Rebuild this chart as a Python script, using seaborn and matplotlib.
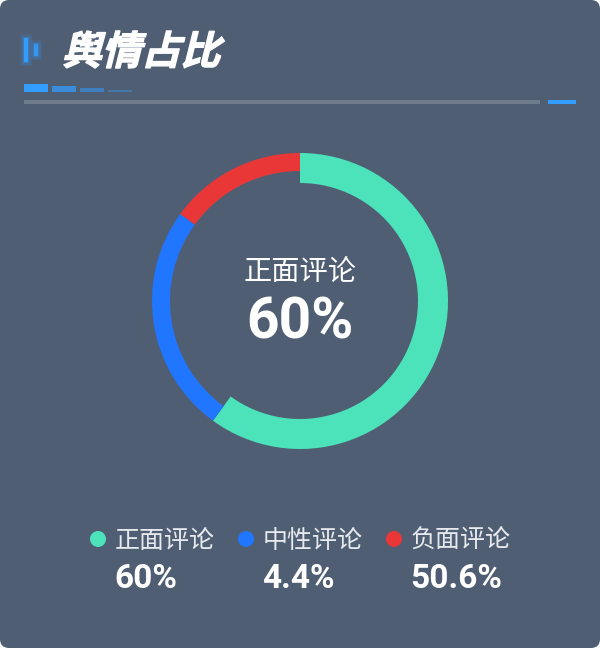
# Importar Librerias
import seaborn as sns
import matplotlib.pyplot as plt
import matplotlib.patheffects as pe
from matplotlib.patches import Circle, FancyBboxPatch, Rectangle
from matplotlib.transforms import Affine2D

titulo = "舆情占比"
categorias = ["正面评论", "中性评论", "负面评论"]
valores_anillo = [60, 25, 15]
etiquetas_valor = ["60%", "4.4%", "50.6%"]
colores = ["#4CE3BB", "#2176FF", "#E93737"]

FONDO = "#4F5E73"
AZUL = "#339CFF"
FUENTE_CJK = ["Noto Sans CJK SC", "DejaVu Sans"]
FUENTE_NUM = ["Roboto", "DejaVu Sans"]


class Sesgo(pe.AbstractPathEffect):
    """Inclina el texto para imitar la fuente cursiva del titulo"""

    def __init__(self, y_base, grados):
        super().__init__()
        self.y_base = y_base
        self.grados = grados

    def draw_path(self, renderer, gc, tpath, affine, rgbFace=None):
        sesgo = (Affine2D().translate(0, -self.y_base)
                 .skew_deg(self.grados, 0).translate(0, self.y_base))
        gc2 = renderer.new_gc()
        gc2.copy_properties(gc)
        gc2.set_linewidth(0.9)
        gc2.set_foreground("white")
        renderer.draw_path(gc2, tpath, affine + sesgo, rgbFace)
        gc2.restore()


sns.set_style("white")
plt.rcParams['font.family'] = FUENTE_CJK

fig = plt.figure(figsize=(6, 6.48), dpi=100, facecolor="white")
ax = fig.add_axes([0, 0, 1, 1])

# Fondo redondeado
ax.add_patch(FancyBboxPatch((0, 0), 600, 648, boxstyle="round,pad=0,rounding_size=9",
                            facecolor=FONDO, edgecolor="none", zorder=0))

# Anillo: el eje y va invertido, asi que el sentido queda horario
cuñas, _ = ax.pie(valores_anillo, colors=colores, center=(300, 301), radius=148,
                  startangle=-90, counterclock=True, wedgeprops={"linewidth": 0})
for cuña, ancho in zip(cuñas, [30, 18, 18]):
    cuña.set_width(ancho)

ax.set_xlim(0, 600)
ax.set_ylim(648, 0)
ax.set_aspect("auto")
ax.axis("off")

# Icono del titulo con brillo
for x, y, h in [(24, 38, 24), (34, 44, 12)]:
    for extra, alfa in [(4, 0.1), (2.5, 0.16), (1.2, 0.25)]:
        ax.add_patch(Rectangle((x - extra, y - extra), 4 + 2 * extra, h + 2 * extra,
                               facecolor=AZUL, alpha=alfa, edgecolor="none"))
ax.add_patch(Rectangle((24, 38), 4, 24, facecolor=AZUL, edgecolor="none"))
ax.add_patch(Rectangle((34, 44), 4, 12, facecolor=AZUL, alpha=0.85, edgecolor="none"))

# Barras decorativas bajo el titulo
for x, h, alfa in [(24, 8, 1.0), (52, 6, 0.75), (80, 4, 0.55), (108, 2, 0.4)]:
    ax.add_patch(Rectangle((x, 92 - h), 24, h, facecolor=AZUL, alpha=alfa, edgecolor="none"))
ax.add_patch(Rectangle((24, 100), 516, 4, facecolor="#6F7C8B", edgecolor="none"))
ax.add_patch(Rectangle((548, 100), 28, 4, facecolor=AZUL, edgecolor="none"))

# Titulo
ax.text(62, 64.5, titulo, color="white", fontsize=28.5, fontweight="black",
        ha="left", va="baseline", family=FUENTE_CJK,
        path_effects=[Sesgo(648 - 64.5, 14)])

# Texto central
ax.text(300, 273, categorias[0], color="white", fontsize=20.3, ha="center", va="center",
        family=FUENTE_CJK, fontweight="light")
ax.text(300, 338.5, etiquetas_valor[0], color="white", fontsize=41, fontweight="bold",
        ha="center", va="baseline", family=FUENTE_NUM)

# Leyenda inferior
for i, (cat, etiqueta, color) in enumerate(zip(categorias, etiquetas_valor, colores)):
    x0 = 90 + 148 * i
    ax.add_patch(Circle((x0 + 8, 539), 8, facecolor=color, edgecolor="none"))
    ax.text(x0 + 24.5, 541, cat, color="#E6E9ED", fontsize=18, ha="left", va="center",
            family=FUENTE_CJK, fontweight="light")
    ax.text(x0 + 24, 588, etiqueta, color="white", fontsize=24, fontweight="bold",
            ha="left", va="baseline", family=FUENTE_NUM)

fig.savefig("out.png", dpi=100, facecolor=fig.get_facecolor())
